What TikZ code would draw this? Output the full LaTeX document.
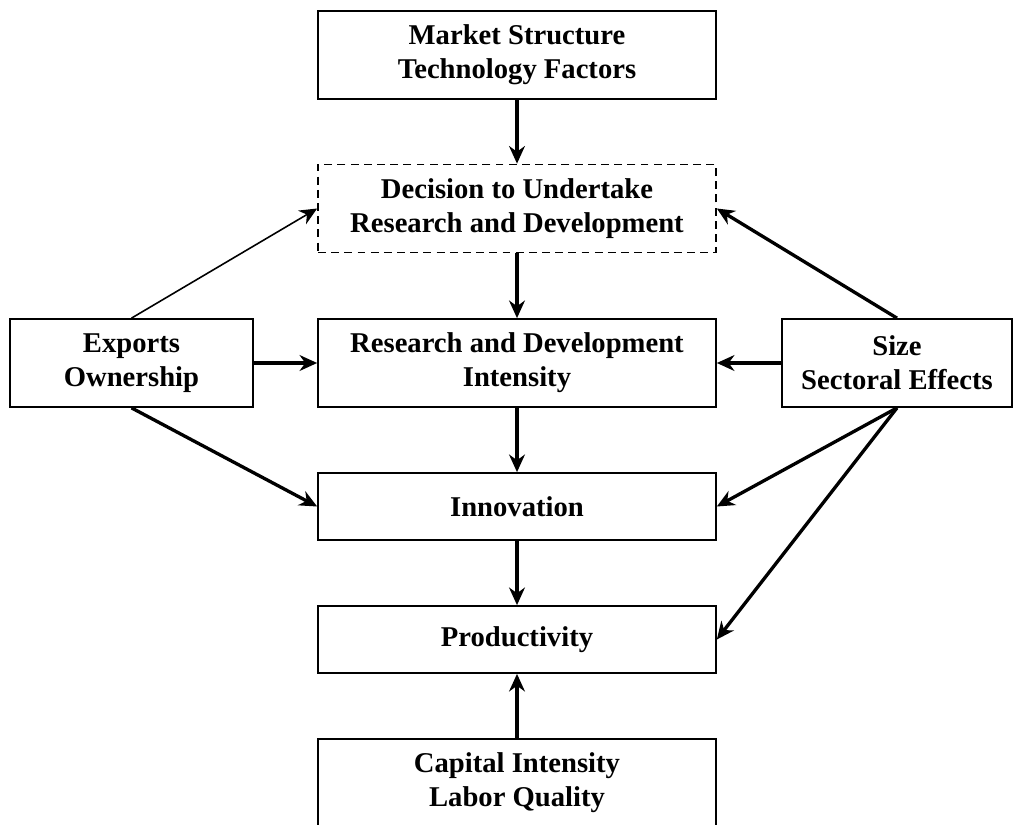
\documentclass[tikz,border=0pt]{standalone}
\usepackage{fontspec}
\setmainfont{Liberation Serif}
\usepackage{tikz}
\usetikzlibrary{arrows.meta}

\begin{document}
\begin{tikzpicture}[x=0.02cm, y=-0.02cm,
    box/.style={draw, line width=1pt, inner sep=0pt, align=center,
      font=\fontsize{16.3}{19.5}\selectfont\bfseries,
      minimum width=7.96cm, minimum height=1.76cm},
    lowbox/.style={box, minimum height=1.34cm},
    sidebox/.style={box, minimum width=4.86cm},
    arr/.style={-{Stealth[length=10pt, width=9pt]}, line width=1.9pt},
    thinarr/.style={-{Stealth[length=10pt, width=9pt]}, line width=0.9pt}]
    \fill[white] (0,0) rectangle (1015,825);
    \useasboundingbox (0,0) rectangle (1015,825);
    \node[box] (mkt) at (517,55) {Market Structure\\Technology Factors};
    \node[box, dash pattern=on 4.5pt off 3pt] (dec) at (517,208.5) {Decision to Undertake\\Research and Development};
    \node[box] (rd) at (517,363) {Research and Development\\Intensity};
    \node[sidebox] (exp) at (131.5,363) {Exports\\Ownership};
    \node[sidebox, minimum width=4.6cm] (size) at (897,363) {Size\\Sectoral Effects};
    \node[lowbox] (inn) at (517,506.5) {Innovation};
    \node[lowbox] (prod) at (517,639.5) {Productivity};
    \node[box] (cap) at (517,783) {Capital Intensity\\Labor Quality};
    \draw[arr] (mkt) -- (dec);
    \draw[arr] (dec) -- (rd);
    \draw[arr] (rd) -- (inn);
    \draw[arr] (inn) -- (prod);
    \draw[arr] (cap) -- (prod);
    \draw[thinarr] (exp.north) -- (dec.west);
    \draw[arr] (exp) -- (rd);
    \draw[arr] (exp.south) -- (inn.west);
    \draw[arr] (size.north) -- (dec.east);
    \draw[arr] (size) -- (rd);
    \draw[arr] (size.south) -- (inn.east);
    \draw[arr] (size.south) -- (prod.east);
\end{tikzpicture}
\end{document}
